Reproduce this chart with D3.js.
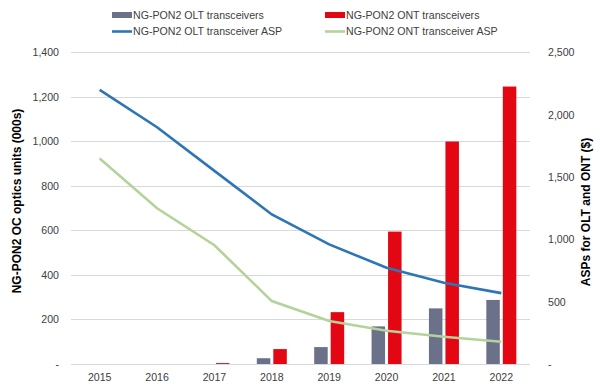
<!DOCTYPE html>
<html><head><meta charset="utf-8">
<script src="https://cdn.jsdelivr.net/npm/d3@7"></script>
<style>body{margin:0;background:#fff}svg{display:block;font-family:"Liberation Sans",Arial,sans-serif}</style>
</head><body><svg id="c" width="600" height="390"></svg>
<script>
const years = ["2015","2016","2017","2018","2019","2020","2021","2022"];
const oltUnits = [0, 0, 0, 26, 76, 169, 250, 288];
const ontUnits = [0, 0, 4, 67, 233, 595, 1000, 1247];
const oltAsp = [2200, 1900, 1550, 1200, 960, 772, 652, 569];
const ontAsp = [1650, 1250, 953, 505, 345, 267, 219, 179];
const leftTicks = [0, 200, 400, 600, 800, 1000, 1200, 1400];
const rightTicks = [0, 500, 1000, 1500, 2000, 2500];
const seriesNames = ["NG-PON2 OLT transceivers","NG-PON2 ONT transceivers","NG-PON2 OLT transceiver ASP","NG-PON2 ONT transceiver ASP"];

const C = {olt:"#6b7189", ont:"#e30613", oltL:"#2e75b6", ontL:"#b4d39a", grid:"#d9d9d9", text:"#404040"};
const svg = d3.select("#c");
const L = 71, R = 530, T = 52.5, B = 364;
const x = d3.scaleBand().domain(years).range([L, R]);
const yL = d3.scaleLinear().domain([0, 1400]).range([B, T]);
const yR = d3.scaleLinear().domain([0, 2500]).range([B, T]);
const fmt = v => v === 0 ? "-" : d3.format(",")(v);
const FS = 10.6;

// grid
svg.append("g").selectAll("line").data(leftTicks).join("line")
  .attr("x1", L).attr("x2", R).attr("y1", d => yL(d)).attr("y2", d => yL(d))
  .attr("stroke", C.grid).attr("stroke-width", 1).attr("shape-rendering","crispEdges");

// axes
const ga = d3.axisLeft(yL).tickValues(leftTicks).tickFormat(fmt).tickSize(0).tickPadding(12);
svg.append("g").attr("transform", `translate(${L},0)`).call(ga)
  .call(g => g.select(".domain").remove())
  .selectAll("text").attr("font-size", FS).attr("fill", C.text).attr("font-family","Liberation Sans, Arial, sans-serif");
const gr = d3.axisRight(yR).tickValues(rightTicks).tickFormat(fmt).tickSize(0).tickPadding(18);
svg.append("g").attr("transform", `translate(${R},0)`).call(gr)
  .call(g => g.select(".domain").remove())
  .selectAll("text").attr("font-size", FS).attr("fill", C.text).attr("font-family","Liberation Sans, Arial, sans-serif");
const gx = d3.axisBottom(x).tickSize(0).tickPadding(9);
svg.append("g").attr("transform", `translate(0,${B})`).call(gx)
  .call(g => g.select(".domain").remove())
  .selectAll("text").attr("font-size", FS).attr("fill", C.text).attr("font-family","Liberation Sans, Arial, sans-serif");

// axis titles
svg.append("text").attr("transform", `translate(21,201) rotate(-90)`)
  .attr("text-anchor","middle").attr("font-size", 12).attr("font-weight","bold").attr("fill","#000")
  .text("NG-PON2 OC optics units (000s)");
svg.append("text").attr("transform", `translate(590,212) rotate(-90)`)
  .attr("text-anchor","middle").attr("font-size", 12).attr("font-weight","bold").attr("fill","#000")
  .text("ASPs for OLT and ONT ($)");

// bars
const bw = 13.5, gap = 3;
const bars = svg.append("g");
bars.selectAll(".o").data(years).join("rect")
  .attr("x", d => x(d) + x.bandwidth()/2 - gap/2 - bw)
  .attr("width", bw)
  .attr("y", (d,i) => yL(oltUnits[i]))
  .attr("height", (d,i) => B - yL(oltUnits[i]))
  .attr("fill", C.olt);
bars.selectAll(".n").data(years).join("rect")
  .attr("x", d => x(d) + x.bandwidth()/2 + gap/2)
  .attr("width", bw)
  .attr("y", (d,i) => yL(ontUnits[i]))
  .attr("height", (d,i) => B - yL(ontUnits[i]))
  .attr("fill", C.ont);

// lines
const line = d3.line().x((d,i) => x(years[i]) + x.bandwidth()/2).y(d => yR(d));
svg.append("path").datum(oltAsp).attr("d", line).attr("fill","none").attr("stroke", C.oltL).attr("stroke-width", 2.6);
svg.append("path").datum(ontAsp).attr("d", line).attr("fill","none").attr("stroke", C.ontL).attr("stroke-width", 2.6);

// legend
const lg = svg.append("g").attr("font-size", FS).attr("fill", C.text);
const items = [
  {x:112, y:15, type:"rect", c:C.olt, t:seriesNames[0]},
  {x:325, y:15, type:"rect", c:C.ont, t:seriesNames[1]},
  {x:112, y:31.5, type:"line", c:C.oltL, t:seriesNames[2]},
  {x:325, y:31.5, type:"line", c:C.ontL, t:seriesNames[3]}
];
items.forEach(it => {
  if (it.type === "rect") lg.append("rect").attr("x", it.x).attr("y", it.y-3).attr("width", 20).attr("height", 6).attr("fill", it.c);
  else lg.append("line").attr("x1", it.x).attr("x2", it.x+20).attr("y1", it.y).attr("y2", it.y).attr("stroke", it.c).attr("stroke-width", 2.6);
  lg.append("text").attr("x", it.x+21).attr("y", it.y).attr("dy","0.35em").attr("fill", C.text).text(it.t);
});
</script></body></html>
